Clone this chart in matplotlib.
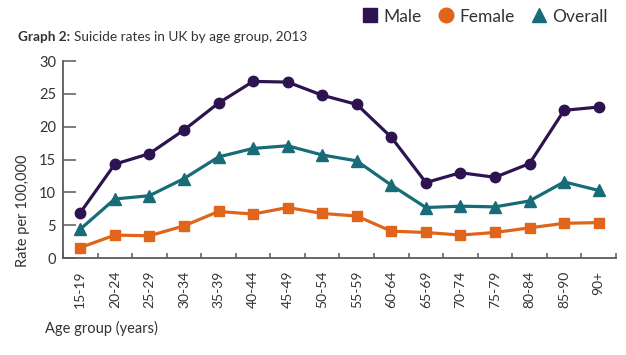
import matplotlib.pyplot as plt
from matplotlib.lines import Line2D
import numpy as np

# Data
age_groups = ['15-19', '20-24', '25-29', '30-34', '35-39', '40-44', '45-49', '50-54',
              '55-59', '60-64', '65-69', '70-74', '75-79', '80-84', '85-90', '90+']
male = [6.9, 14.3, 15.9, 19.5, 23.6, 26.9, 26.8, 24.8, 23.4, 18.4, 11.5, 13.0, 12.3, 14.4, 22.5, 23.0]
female = [1.6, 3.5, 3.4, 4.9, 7.1, 6.7, 7.7, 6.8, 6.4, 4.1, 3.9, 3.5, 3.9, 4.6, 5.3, 5.4]
overall = [4.4, 9.0, 9.5, 12.1, 15.4, 16.7, 17.1, 15.7, 14.8, 11.1, 7.7, 7.9, 7.8, 8.7, 11.6, 10.3]

male_color = '#2d1450'
female_color = '#e0651a'
overall_color = '#176c78'
text_color = '#333333'
axis_color = '#5a5a5a'

plt.rcParams['font.family'] = ['Lato', 'DejaVu Sans']

fig = plt.figure(figsize=(6.26, 3.55), dpi=100)
ax = fig.add_axes([0.1006, 0.273, 0.8834, 0.555])

x = np.arange(len(age_groups))
ax.plot(x, male, color=male_color, lw=2.3, marker='o', markersize=7.5, zorder=3)
ax.plot(x, overall, color=overall_color, lw=2.3, marker='^', markersize=8, zorder=3)
ax.plot(x, female, color=female_color, lw=2.3, marker='s', markersize=7.5, zorder=3)

ax.set_xlim(-0.5, len(age_groups) - 0.5)
ax.set_ylim(0, 30)
ax.set_yticks(range(0, 31, 5))
ax.set_xticks(x)
ax.set_xticklabels(age_groups, rotation=90)
ax.set_xticks(np.arange(-0.5, len(age_groups)), minor=True)

for side in ['top', 'right']:
    ax.spines[side].set_visible(False)
for side in ['left', 'bottom']:
    ax.spines[side].set_color(axis_color)
    ax.spines[side].set_linewidth(1.3)

ax.tick_params(axis='x', which='major', length=0, pad=9, labelsize=10, labelcolor=text_color)
ax.tick_params(axis='x', which='minor', direction='in', length=3.5, width=1.1, color=axis_color)
ax.tick_params(axis='y', direction='in', length=9.5, width=1.1, color=axis_color,
               labelsize=10.5, labelcolor=text_color, pad=5)

# y label sits low, beside the lower part of the axis
fig.text(0.037, 0.405, 'Rate per 100,000', fontsize=10.5, color=text_color,
         rotation=90, ha='center', va='center')

fig.text(0.072, 0.076, 'Age group (years)', fontsize=10.5, color=text_color, ha='left', va='center')

fig.text(0.029, 0.896, 'Graph 2:', fontsize=9.8, fontweight='bold', color=text_color,
         ha='left', va='center')
fig.text(0.119, 0.896, 'Suicide rates in UK by age group, 2013', fontsize=9.8,
         color=text_color, ha='left', va='center')

handles = [
    Line2D([], [], ls='none', marker='s', markersize=10.5, color=male_color),
    Line2D([], [], ls='none', marker='o', markersize=10.5, color=female_color),
    Line2D([], [], ls='none', marker='^', markersize=10.5, color=overall_color),
]
fig.legend(handles, ['Male', 'Female', 'Overall'], loc='upper right', ncol=3,
           bbox_to_anchor=(0.995, 1.02), frameon=False, fontsize=12.5,
           handletextpad=0.25, columnspacing=0.9, handlelength=1.0,
           labelcolor=text_color)

fig.savefig('out.png', dpi=100)
